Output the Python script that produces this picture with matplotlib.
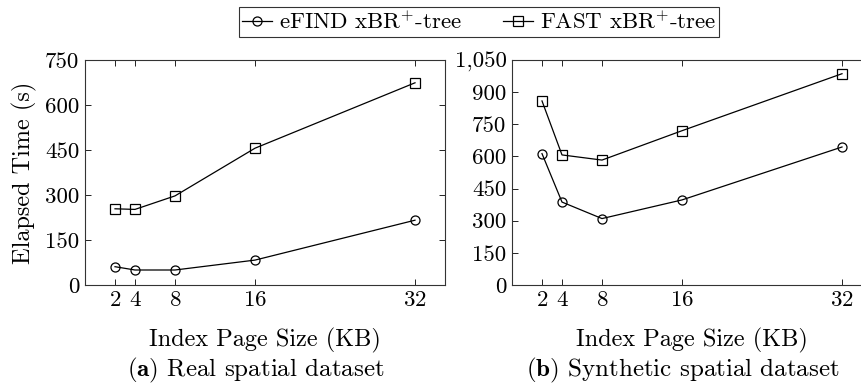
import matplotlib
matplotlib.use('Agg')
import matplotlib.pyplot as plt
from matplotlib.ticker import FuncFormatter

plt.rcParams['font.family'] = ['cmr10', 'DejaVu Serif']
plt.rcParams['mathtext.fontset'] = 'cm'
plt.rcParams['axes.formatter.use_mathtext'] = True

page_size = [2, 4, 8, 16, 32]

# (a) real spatial dataset
real_efind = [61, 50, 50, 83, 216]
real_fast = [254, 252, 297, 456, 674]

# (b) synthetic spatial dataset
synth_efind = [613, 387, 310, 397, 644]
synth_fast = [859, 607, 583, 720, 986]

label_efind = r'eFIND xBR$^{+}$-tree'
label_fast = r'FAST xBR$^{+}$-tree'

W, H = 862, 385
fig = plt.figure(figsize=(W / 100, H / 100), dpi=100)

ax1 = fig.add_axes([85 / W, 100 / H, 360 / W, 225 / H])
ax2 = fig.add_axes([512 / W, 100 / H, 360 / W, 225 / H])

fs = 16.5      # ticks / legend
fs_lab = 17.5  # axis labels
fs_cap = 18    # captions
for ax, ef, fa, ymax in [
    (ax1, real_efind, real_fast, 750),
    (ax2, synth_efind, synth_fast, 1050),
]:
    ax.plot(page_size, ef, color='black', lw=0.9, marker='o', ms=6.5,
            mfc='none', mec='black', mew=0.9, label=label_efind)
    ax.plot(page_size, fa, color='black', lw=0.9, marker='s', ms=6.5,
            mfc='none', mec='black', mew=0.9, label=label_fast)
    ax.set_xlim(-1, 35)
    ax.set_ylim(0, ymax)
    ax.set_xticks(page_size)
    ax.set_yticks(range(0, ymax + 1, 150))
    ax.yaxis.set_major_formatter(FuncFormatter(lambda v, p: f'{int(v):,}'))
    ax.tick_params(direction='in', top=True, right=True, length=4,
                   width=0.6, labelsize=fs, pad=4)
    for s in ax.spines.values():
        s.set_linewidth(0.8)
        s.set_color('#333333')
    ax.set_xlabel('Index Page Size (KB)', fontsize=fs_lab, labelpad=13)

ax1.set_ylabel('Elapsed Time (s)', fontsize=fs_lab, labelpad=6)

# captions
for x, tag, cap in [(256, '(a)', 'Real spatial dataset'),
                    (683, '(b)', 'Synthetic spatial dataset')]:
    fig.text(x / W, 1 - 370 / H, r'$\mathbf{' + tag + '}$ ' + cap,
             ha='center', va='center', fontsize=fs_cap)

handles, labels = ax1.get_legend_handles_labels()
leg = fig.legend(handles, labels, loc='center', ncol=2,
                 bbox_to_anchor=(479 / W, 1 - 22 / H), fontsize=fs,
                 frameon=True, fancybox=False, handlelength=1.3,
                 handletextpad=0.3, columnspacing=1.8, borderpad=0.15)
leg.get_frame().set_edgecolor('black')
leg.get_frame().set_linewidth(0.8)

fig.savefig('out.png', dpi=100)
